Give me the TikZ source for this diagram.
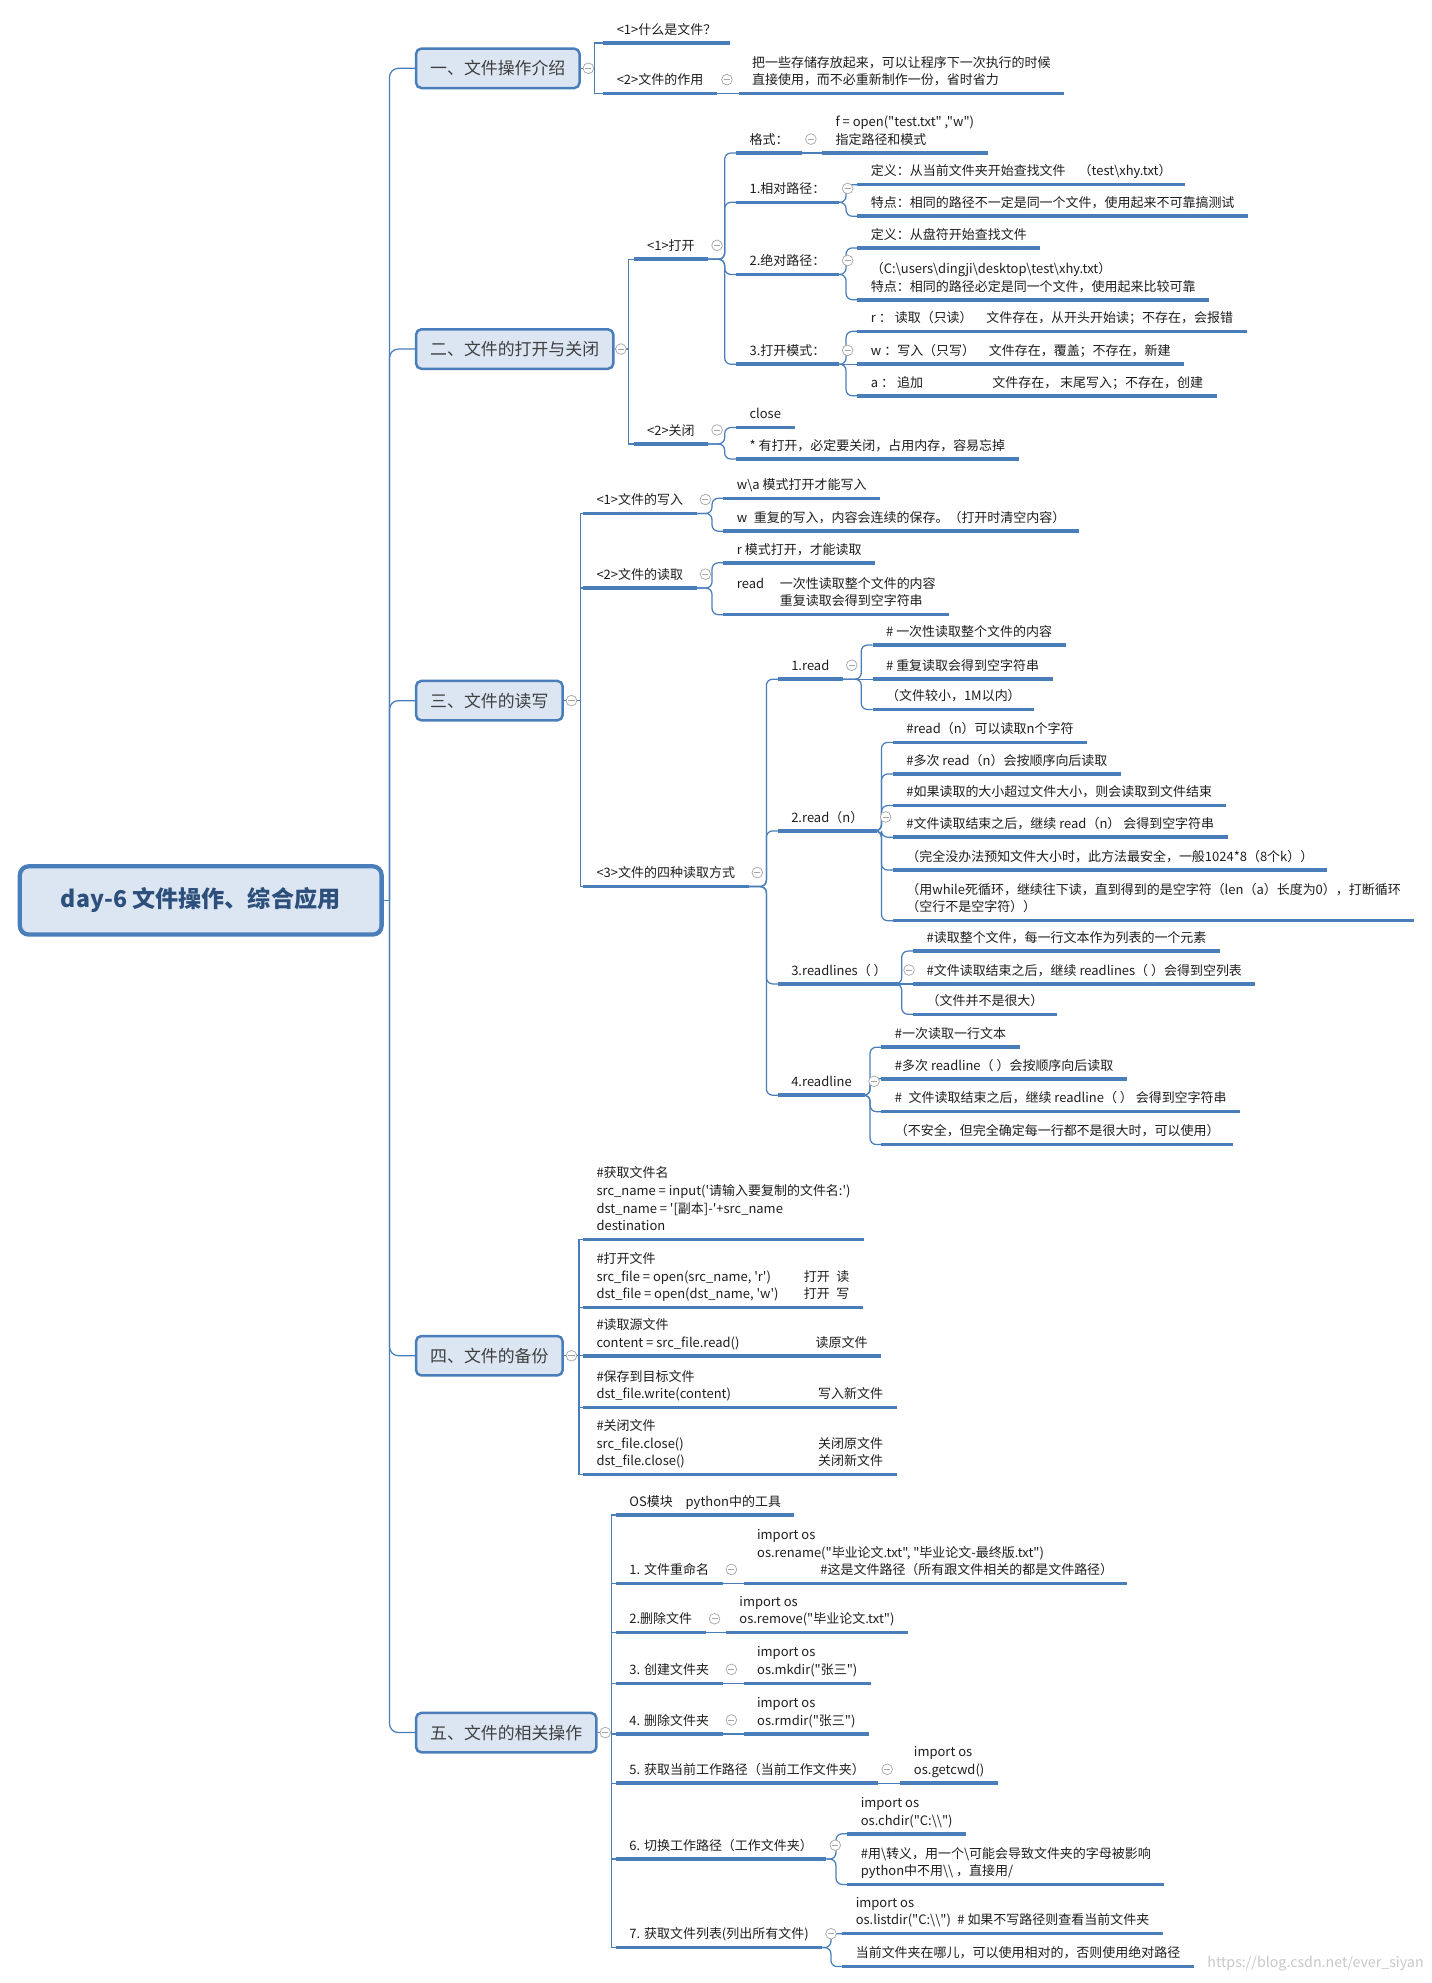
\documentclass[tikz,border=0pt]{standalone}
\usepackage{fontspec}
\setmainfont{Noto Sans CJK SC}[Ligatures=TeXOff]
\usepackage{tikz}
\usetikzlibrary{calc}

\definecolor{lineblue}{HTML}{4A7EBB}
\definecolor{boxfill}{HTML}{DCE6F2}
\definecolor{rootink}{HTML}{2D4F7C}
\definecolor{chapink}{HTML}{3F3F3F}
\definecolor{leafink}{HTML}{1E1E1E}
\definecolor{foldgray}{HTML}{A6A6A6}
\definecolor{markgray}{HTML}{C8C8C8}

\newcommand\leaffont{\fontsize{7.3}{9.9}\selectfont}
\newcommand\chapfont{\fontsize{9.5}{11}\selectfont}
\newcommand\rootfont{\fontsize{13}{15}\selectfont\bfseries}
\newcommand\sq{\textquotesingle}
\newcommand\bkslash{\textbackslash}
\newcommand\curvelink[2]{\draw[link, rounded corners=3.5pt] (#1.south east) -- ($(#2.south west |- #1.south east)+(-9,0)$) |- (#2.south west);}

\tikzset{
	link/.style={draw=lineblue, line width=0.7pt},
	uline/.style={draw=lineblue, line width=2pt},
	topic/.style={anchor=south west, inner xsep=7.4pt, inner ysep=3.5pt, text depth=1.2pt, align=left, font=\leaffont, text=leafink,
		append after command={(\tikzlastnode.south west) edge[uline] (\tikzlastnode.south east)}},
	branchbox/.style={anchor=west, draw=lineblue, fill=boxfill, line width=1.4pt, rounded corners=3pt, minimum height=0.78cm, inner xsep=0.28cm, font=\chapfont, text=chapink},
	rootbox/.style={anchor=west, draw=lineblue, fill=boxfill, line width=2.4pt, rounded corners=5pt, minimum width=7.15cm, minimum height=1.35cm, font=\rootfont, text=rootink},
	fold/.style={circle, draw=foldgray, fill=white, line width=0.4pt, minimum size=6pt, inner sep=0pt,
		path picture={\draw[foldgray, line width=0.4pt] ([xshift=-1.7pt]path picture bounding box.center) -- ([xshift=1.7pt]path picture bounding box.center);}},
	watermark/.style={anchor=east, inner sep=0pt, font=\fontsize{8}{9}\selectfont, text=markgray}
}

\begin{document}
\begin{tikzpicture}[x=0.025cm, y=-0.025cm]
	%%%%% START %%%%%
	\useasboundingbox (0,0) rectangle (1132,1568);
	\fill[white] (0,0) rectangle (1132,1568);
	
	\node[rootbox] (root) at (14,712) {day-6 文件操作、综合应用};
	\coordinate (hub) at (308,712);
	
	\node[branchbox] (s1) at (328,54) {一、文件操作介绍};
	\node[branchbox] (s2) at (328,276) {二、文件的打开与关闭};
	\node[branchbox] (s3) at (328,554) {三、文件的读写};
	\node[branchbox] (s4) at (328,1072) {四、文件的备份};
	\node[branchbox] (s5) at (328,1370) {五、文件的相关操作};
	
	\draw[link] (root.east) -- (hub);
	\draw[link, rounded corners=5pt] (hub) |- (s1.west);
	\draw[link, rounded corners=5pt] (hub) |- (s2.west);
	\draw[link, rounded corners=5pt] (hub) |- (s3.west);
	\draw[link, rounded corners=5pt] (hub) |- (s4.west);
	\draw[link, rounded corners=5pt] (hub) |- (s5.west);
	
	% 一
	\node[topic] (s1a) at (477,34) {<1>什么是文件？};
	\node[topic] (s1b) at (477,74) {<2>文件的作用};
	\node[topic] (s1b1) at (584,74) {把一些存储存放起来，可以让程序下一次执行的时候\\直接使用，而不必重新制作一份，省时省力};
	\draw[link] (s1.east) -- ++(11,0) |- (s1a.south west);
	\draw[link] (s1.east) -- ++(11,0) |- (s1b.south west);
	\draw[link] (s1b.south east) -- (s1b1.south west);
	
	% 二
	\node[topic] (s2a) at (501,205) {<1>打开};
	\node[topic] (s2b) at (501,351) {<2>关闭};
	\node[topic] (s2a1) at (582,121) {格式：};
	\node[topic] (s2a1a) at (650,121) {f = open("test.txt" ,"w")\\指定路径和模式};
	\node[topic] (s2a2) at (582,160) {1.相对路径：};
	\node[topic] (s2a2a) at (678,146) {定义：从当前文件夹开始查找文件\quad （test\bkslash xhy.txt）};
	\node[topic] (s2a2b) at (678,171) {特点：相同的路径不一定是同一个文件，使用起来不可靠搞测试};
	\node[topic] (s2a3) at (582,217) {2.绝对路径：};
	\node[topic] (s2a3a) at (678,196) {定义：从盘符开始查找文件};
	\node[topic] (s2a3b) at (678,237) {（C:\bkslash users\bkslash dingji\bkslash desktop\bkslash test\bkslash xhy.txt）\\特点：相同的路径必定是同一个文件，使用起来比较可靠};
	\node[topic] (s2a4) at (582,288) {3.打开模式：};
	\node[topic] (s2a4a) at (678,262) {\makebox[2.28cm][l]{r ： 读取（只读）}文件存在，从开头开始读；不存在，会报错};
	\node[topic] (s2a4b) at (678,288) {\makebox[2.33cm][l]{w ：写入（只写）}文件存在，覆盖；不存在，新建};
	\node[topic] (s2a4c) at (678,313) {\makebox[2.4cm][l]{a ： 追加}文件存在， 末尾写入；不存在，创建};
	\node[topic] (s2b1) at (582,338) {close};
	\node[topic] (s2b2) at (582,363) {* 有打开，必定要关闭，占用内存，容易忘掉};
	
	\draw[link] (s2.east) -- ++(11,0) |- (s2a.south west);
	\draw[link] (s2.east) -- ++(11,0) |- (s2b.south west);
	\curvelink{s2a}{s2a1}
	\curvelink{s2a}{s2a2}
	\curvelink{s2a}{s2a3}
	\curvelink{s2a}{s2a4}
	\draw[link] (s2a1.south east) -- (s2a1a.south west);
	\curvelink{s2a2}{s2a2a}
	\curvelink{s2a2}{s2a2b}
	\curvelink{s2a3}{s2a3a}
	\curvelink{s2a3}{s2a3b}
	\curvelink{s2a4}{s2a4a}
	\draw[link] (s2a4.south east) -- (s2a4b.south west);
	\curvelink{s2a4}{s2a4c}
	\curvelink{s2b}{s2b1}
	\curvelink{s2b}{s2b2}
	
	% 三
	\node[topic] (s3a) at (461,406) {<1>文件的写入};
	\node[topic] (s3a1) at (572,394) {w\bkslash a 模式打开才能写入};
	\node[topic] (s3a2) at (572,420) {w\enspace 重复的写入，内容会连续的保存。（打开时清空内容）};
	\node[topic] (s3b) at (461,465) {<2>文件的读取};
	\node[topic] (s3b1) at (572,445) {r 模式打开，才能读取};
	\node[topic] (s3b2) at (572,486) {\makebox[0.85cm][l]{read}一次性读取整个文件的内容\\\hspace*{0.85cm}重复读取会得到空字符串};
	\node[topic] (s3c) at (461,701) {<3>文件的四种读取方式};
	
	\node[topic] (s3c1) at (615,537) {1.read};
	\node[topic] (s3c1a) at (690,510) {\# 一次性读取整个文件的内容};
	\node[topic] (s3c1b) at (690,537) {\# 重复读取会得到空字符串};
	\node[topic] (s3c1c) at (690,561) {（文件较小，1M以内）};
	
	\node[topic] (s3c2) at (615,657) {2.read（n）};
	\node[topic] (s3c2a) at (706,587) {\#read（n）可以读取n个字符};
	\node[topic] (s3c2b) at (706,612) {\#多次 read（n）会按顺序向后读取};
	\node[topic] (s3c2c) at (706,637) {\#如果读取的大小超过文件大小，则会读取到文件结束};
	\node[topic] (s3c2d) at (706,662) {\#文件读取结束之后，继续 read（n） 会得到空字符串};
	\node[topic] (s3c2e) at (706,688) {（完全没办法预知文件大小时，此方法最安全，一般1024*8（8个k））};
	\node[topic] (s3c2f) at (706,728) {（用while死循环，继续往下读，直到得到的是空字符（len（a）长度为0），打断循环\\（空行不是空字符））};
	
	\node[topic] (s3c3) at (615,778) {3.readlines（ ）};
	\node[topic] (s3c3a) at (722,752) {\#读取整个文件，每一行文本作为列表的一个元素};
	\node[topic] (s3c3b) at (722,778) {\#文件读取结束之后，继续 readlines（ ）会得到空列表};
	\node[topic] (s3c3c) at (722,802) {（文件并不是很大）};
	
	\node[topic] (s3c4) at (615,866) {4.readline};
	\node[topic] (s3c4a) at (697,828) {\#一次读取一行文本};
	\node[topic] (s3c4b) at (697,853) {\#多次 readline（ ）会按顺序向后读取};
	\node[topic] (s3c4c) at (697,879) {\#\enspace 文件读取结束之后，继续 readline（ ） 会得到空字符串};
	\node[topic] (s3c4d) at (697,905) {（不安全，但完全确定每一行都不是很大时，可以使用）};
	
	\draw[link] (s3.east) -- ++(13,0) |- (s3a.south west);
	\draw[link] (s3.east) -- ++(13,0) |- (s3b.south west);
	\draw[link] (s3.east) -- ++(13,0) |- (s3c.south west);
	\curvelink{s3a}{s3a1}
	\curvelink{s3a}{s3a2}
	\curvelink{s3b}{s3b1}
	\curvelink{s3b}{s3b2}
	\curvelink{s3c}{s3c1}
	\curvelink{s3c}{s3c2}
	\curvelink{s3c}{s3c3}
	\curvelink{s3c}{s3c4}
	\curvelink{s3c1}{s3c1a}
	\draw[link] (s3c1.south east) -- (s3c1b.south west);
	\curvelink{s3c1}{s3c1c}
	\curvelink{s3c2}{s3c2a}
	\curvelink{s3c2}{s3c2b}
	\curvelink{s3c2}{s3c2c}
	\curvelink{s3c2}{s3c2d}
	\curvelink{s3c2}{s3c2e}
	\curvelink{s3c2}{s3c2f}
	\curvelink{s3c3}{s3c3a}
	\draw[link] (s3c3.south east) -- (s3c3b.south west);
	\curvelink{s3c3}{s3c3c}
	\curvelink{s3c4}{s3c4a}
	\curvelink{s3c4}{s3c4b}
	\curvelink{s3c4}{s3c4c}
	\curvelink{s3c4}{s3c4d}
	
	% 四
	\node[topic] (s4a) at (461,980) {\#获取文件名\\src\_name = input(\sq 请输入要复制的文件名:\sq)\\dst\_name = \sq[副本]-\sq +src\_name\\destination};
	\node[topic] (s4b) at (461,1034) {\#打开文件\\\makebox[4.1cm][l]{src\_file = open(src\_name, \sq r\sq)}打开\enspace 读\\\makebox[4.1cm][l]{dst\_file = open(dst\_name, \sq w\sq)}打开\enspace 写};
	\node[topic] (s4c) at (461,1072) {\#读取源文件\\\makebox[4.33cm][l]{content = src\_file.read()}读原文件};
	\node[topic] (s4d) at (461,1113) {\#保存到目标文件\\\makebox[4.38cm][l]{dst\_file.write(content)}写入新文件};
	\node[topic] (s4e) at (461,1166) {\#关闭文件\\\makebox[4.38cm][l]{src\_file.close()}关闭原文件\\\makebox[4.38cm][l]{dst\_file.close()}关闭新文件};
	
	\draw[link] (s4.east) -- ++(12,0) |- (s4a.south west);
	\draw[link] (s4.east) -- ++(12,0) |- (s4b.south west);
	\draw[link] (s4.east) -- ++(12,0) |- (s4c.south west);
	\draw[link] (s4.east) -- ++(12,0) |- (s4d.south west);
	\draw[link] (s4.east) -- ++(12,0) |- (s4e.south west);
	
	% 五
	\node[topic] (s5a) at (487,1198) {OS模块\quad python中的工具};
	\node[topic] (s5b) at (487,1252) {1. 文件重命名};
	\node[topic] (s5b1) at (588,1252) {import os\\os.rename("毕业论文.txt", "毕业论文-最终版.txt")\\\hspace*{1.25cm}\#这是文件路径（所有跟文件相关的都是文件路径）};
	\node[topic] (s5c) at (487,1291) {2.删除文件};
	\node[topic] (s5c1) at (574,1291) {import os\\os.remove("毕业论文.txt")};
	\node[topic] (s5d) at (487,1331) {3. 创建文件夹};
	\node[topic] (s5d1) at (588,1331) {import os\\os.mkdir("张三")};
	\node[topic] (s5e) at (487,1371) {4. 删除文件夹};
	\node[topic] (s5e1) at (588,1371) {import os\\os.rmdir("张三")};
	\node[topic] (s5f) at (487,1410) {5. 获取当前工作路径（当前工作文件夹）};
	\node[topic] (s5f1) at (712,1410) {import os\\os.getcwd()};
	\node[topic] (s5g) at (487,1470) {6. 切换工作路径（工作文件夹）};
	\node[topic] (s5g1) at (670,1450) {import os\\os.chdir("C:\bkslash\bkslash")};
	\node[topic] (s5g2) at (670,1490) {\#用\bkslash 转义，用一个\bkslash 可能会导致文件夹的字母被影响\\python中不用\bkslash\bkslash\ ，直接用/};
	\node[topic] (s5h) at (487,1540) {7. 获取文件列表(列出所有文件)};
	\node[topic] (s5h1) at (666,1529) {import os\\os.listdir("C:\bkslash\bkslash")\enspace\# 如果不写路径则查看当前文件夹};
	\node[topic] (s5h2) at (666,1555) {当前文件夹在哪儿，可以使用相对的，否则使用绝对路径};
	
	\draw[link] (s5.east) -- ++(11,0) |- (s5a.south west);
	\draw[link] (s5.east) -- ++(11,0) |- (s5b.south west);
	\draw[link] (s5.east) -- ++(11,0) |- (s5c.south west);
	\draw[link] (s5.east) -- ++(11,0) |- (s5d.south west);
	\draw[link] (s5.east) -- ++(11,0) |- (s5e.south west);
	\draw[link] (s5.east) -- ++(11,0) |- (s5f.south west);
	\draw[link] (s5.east) -- ++(11,0) |- (s5g.south west);
	\draw[link] (s5.east) -- ++(11,0) |- (s5h.south west);
	\draw[link] (s5b.south east) -- (s5b1.south west);
	\draw[link] (s5c.south east) -- (s5c1.south west);
	\draw[link] (s5d.south east) -- (s5d1.south west);
	\draw[link] (s5e.south east) -- (s5e1.south west);
	\draw[link] (s5f.south east) -- (s5f1.south west);
	\curvelink{s5g}{s5g1}
	\curvelink{s5g}{s5g2}
	\curvelink{s5h}{s5h1}
	\curvelink{s5h}{s5h2}
	
	% fold marks
	\node[fold] (f1) at ($(s1.east)+(6,0)$) {};
	\node[fold] (f2) at ($(s2.east)+(5,0)$) {};
	\node[fold] (f3) at ($(s3.east)+(6,0)$) {};
	\node[fold] (f4) at ($(s4.east)+(6,0)$) {};
	\node[fold] (f5) at ($(s5.east)+(6,0)$) {};
	\node[fold] (f1b) at ($(s1b.south east)+(8,-11)$) {};
	\node[fold] (f2a) at ($(s2a.south east)+(7,-11)$) {};
	\node[fold] (f2b) at ($(s2b.south east)+(7,-11)$) {};
	\node[fold] (f2a1) at ($(s2a1.south east)+(7,-11)$) {};
	\node[fold] (f2a2) at ($(s2a2.south east)+(7,-11)$) {};
	\node[fold] (f2a3) at ($(s2a3.south east)+(7,-11)$) {};
	\node[fold] (f2a4) at ($(s2a4.south east)+(7,-11)$) {};
	\node[fold] (f3a) at ($(s3a.south east)+(7,-11)$) {};
	\node[fold] (f3b) at ($(s3b.south east)+(7,-11)$) {};
	\node[fold] (f3c) at ($(s3c.south east)+(7,-11)$) {};
	\node[fold] (f3c1) at ($(s3c1.south east)+(7,-11)$) {};
	\node[fold] (f3c2) at ($(s3c2.south east)+(7,-11)$) {};
	\node[fold] (f3c3) at ($(s3c3.south east)+(7,-11)$) {};
	\node[fold] (f3c4) at ($(s3c4.south east)+(7,-11)$) {};
	\node[fold] (f5b) at ($(s5b.south east)+(7,-11)$) {};
	\node[fold] (f5c) at ($(s5c.south east)+(7,-11)$) {};
	\node[fold] (f5d) at ($(s5d.south east)+(7,-11)$) {};
	\node[fold] (f5e) at ($(s5e.south east)+(7,-11)$) {};
	\node[fold] (f5f) at ($(s5f.south east)+(7,-11)$) {};
	\node[fold] (f5g) at ($(s5g.south east)+(7,-11)$) {};
	\node[fold] (f5h) at ($(s5h.south east)+(7,-11)$) {};
	
	\node[watermark] (wm) at (1126,1553) {https://blog.csdn.net/ever\_siyan};
	%%%%% END %%%%%
\end{tikzpicture}
\end{document}
